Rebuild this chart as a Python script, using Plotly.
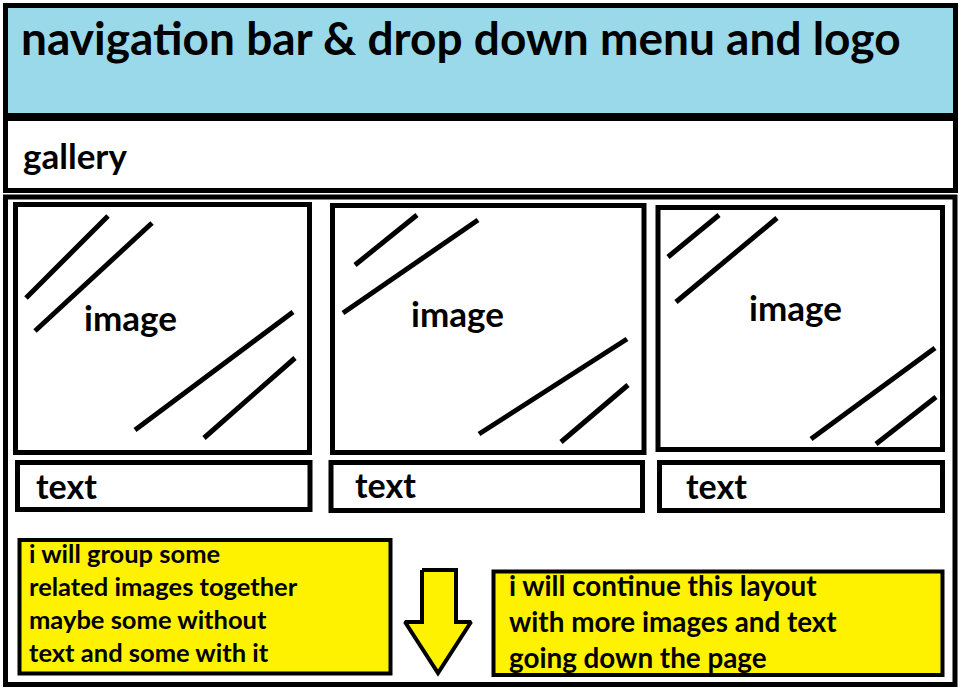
import plotly.graph_objects as go

# Page size (pixel coordinates, y grows downward)
page_w = 961
page_h = 698

# Colours
header_blue = "#99D9EA"
note_yellow = "#FFF200"

# Outer frames
frame_x0 = [5.5, 5.5]
frame_y0 = [5.5, 197]
frame_x1 = [955.5, 955]
frame_y1 = [190.5, 684.5]

# Header band and separator
header_y0 = 5.5
header_y1 = 117
separator_y = 117

# Image boxes
img_x0 = [15.5, 332.5, 658]
img_y0 = [204.5, 205.5, 207.5]
img_x1 = [309.5, 644, 942.5]
img_y1 = [452.5, 452.5, 449.5]

# Caption boxes
cap_x0 = [17.5, 331, 659.5]
cap_y0 = [462.5, 462.5, 462.5]
cap_x1 = [310, 642.5, 942.5]
cap_y1 = [509.5, 510.5, 510.5]

# Diagonal "glass" strokes inside each image box
stroke_x0 = [26, 35, 135, 204, 355, 343, 479, 561, 668, 676, 811, 876]
stroke_y0 = [298, 331, 430, 438, 265, 313, 434, 442, 257, 302, 439, 444]
stroke_x1 = [108, 152, 293, 295, 417, 478, 627, 628, 719, 777, 935, 936]
stroke_y1 = [216, 223, 312, 358, 215, 220, 339, 385, 215, 218, 348, 397]

# Yellow notes
note_x0 = [19.5, 493.5]
note_y0 = [540, 571.5]
note_x1 = [390.5, 942.5]
note_y1 = [673.5, 675]

# Down arrow outline
arrow_x = [422, 456, 456, 471, 438, 405, 422, 422]
arrow_y = [570, 570, 622, 622, 673, 622, 622, 570]

# Texts
title_text = "navigation bar & drop down menu and logo"
title_pos = (21, 43)
gallery_text = "gallery"
gallery_pos = (23, 160)
image_labels = ["image", "image", "image"]
image_label_x = [84, 411, 749]
image_label_y = [322, 318, 312]
caption_labels = ["text", "text", "text"]
caption_label_x = [36, 355, 686]
caption_label_y = [490, 489, 490]
note1_lines = ["i will group some", "related images together",
               "maybe some without", "text and some with it"]
note1_x = 29
note1_y = [557, 590, 623, 656]
note2_lines = ["i will continue this layout", "with more images and text",
               "going down the page"]
note2_x = 509
note2_y = [589, 625, 661]

font_family = "Lato, 'Open Sans', sans-serif"

fig = go.Figure()
shapes = []

# Header band fill
shapes.append(dict(type="rect", x0=frame_x0[0], x1=frame_x1[0], y0=header_y0, y1=header_y1,
                   fillcolor=header_blue, line=dict(width=0), layer="below"))

# Yellow notes (below the text)
for x0, y0, x1, y1 in zip(note_x0, note_y0, note_x1, note_y1):
    shapes.append(dict(type="rect", x0=x0, x1=x1, y0=y0, y1=y1, layer="below",
                       fillcolor=note_yellow, line=dict(color="black", width=4)))

# Frames
for x0, y0, x1, y1 in zip(frame_x0, frame_y0, frame_x1, frame_y1):
    shapes.append(dict(type="rect", x0=x0, x1=x1, y0=y0, y1=y1,
                       line=dict(color="black", width=5)))
shapes.append(dict(type="line", x0=frame_x0[0], x1=frame_x1[0], y0=separator_y, y1=separator_y,
                   line=dict(color="black", width=8)))

# Image and caption boxes
for x0, y0, x1, y1 in zip(img_x0, img_y0, img_x1, img_y1):
    shapes.append(dict(type="rect", x0=x0, x1=x1, y0=y0, y1=y1,
                       line=dict(color="black", width=5)))
for x0, y0, x1, y1 in zip(cap_x0, cap_y0, cap_x1, cap_y1):
    shapes.append(dict(type="rect", x0=x0, x1=x1, y0=y0, y1=y1,
                       line=dict(color="black", width=5)))

# Strokes
for x0, y0, x1, y1 in zip(stroke_x0, stroke_y0, stroke_x1, stroke_y1):
    shapes.append(dict(type="line", x0=x0, x1=x1, y0=y0, y1=y1,
                       line=dict(color="black", width=5)))

# Arrow
fig.add_trace(go.Scatter(x=arrow_x, y=arrow_y, mode="lines", fill="toself",
                         fillcolor=note_yellow, line=dict(color="black", width=4),
                         hoverinfo="skip", showlegend=False))


def add_text(xs, ys, labels, size):
    fig.add_trace(go.Scatter(
        x=xs, y=ys, text=labels, mode="text", textposition="middle right",
        textfont=dict(family=font_family, size=size, color="black", weight="bold"),
        hoverinfo="skip", showlegend=False, cliponaxis=False
    ))


add_text([title_pos[0]], [title_pos[1]], [title_text], 46)
add_text([gallery_pos[0]], [gallery_pos[1]], [gallery_text], 35)
add_text(image_label_x, image_label_y, image_labels, 35)
add_text(caption_label_x, caption_label_y, caption_labels, 34)
add_text([note1_x] * len(note1_lines), note1_y, note1_lines, 25.5)
add_text([note2_x] * len(note2_lines), note2_y, note2_lines, 27.8)

fig.update_layout(
    width=page_w, height=page_h,
    margin=dict(l=0, r=0, t=0, b=0),
    paper_bgcolor="white", plot_bgcolor="white",
    shapes=shapes,
    xaxis=dict(range=[0, page_w], visible=False, fixedrange=True),
    yaxis=dict(range=[page_h, 0], visible=False, fixedrange=True),
)

fig.write_html("out.html", config={"displayModeBar": False},
               post_script="document.body.style.margin='0';document.body.style.overflow='hidden';")
